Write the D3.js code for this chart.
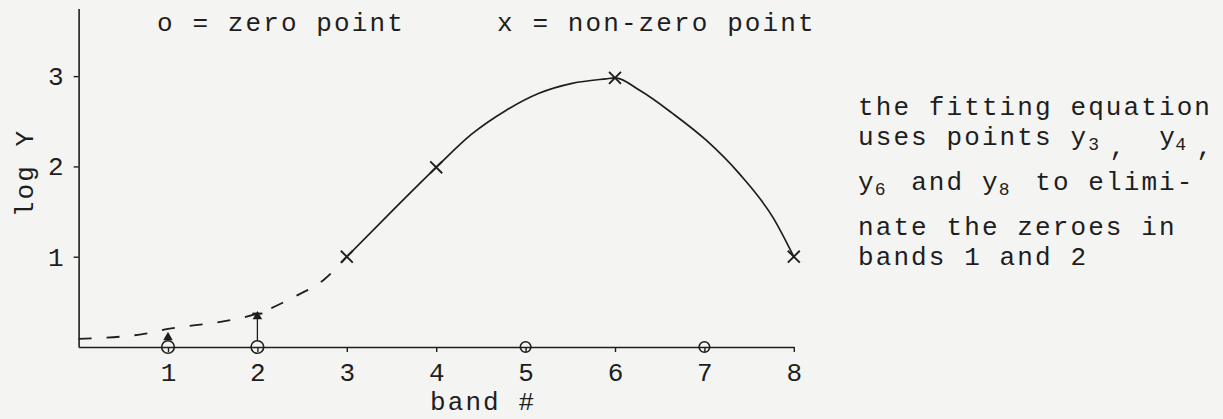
<!DOCTYPE html>
<html>
<head>
<meta charset="utf-8">
<script src="https://cdn.jsdelivr.net/npm/d3@7"></script>
<style>
  html, body { margin: 0; padding: 0; background: #f4f4f2; }
  #chart { width: 1223px; height: 419px; }
</style>
</head>
<body>
<div id="chart"></div>
<script>
// data
var bandTicks = [1, 2, 3, 4, 5, 6, 7, 8];
var logTicks = [1, 2, 3];

var zeroBands = [1, 2, 5, 7];
var zeroValues = [0, 0, 0, 0];

var nonZeroBands = [3, 4, 6, 8];
var nonZeroValues = [1.0, 1.99, 2.98, 1.0];

// dashed part of the fitted curve (extrapolated into bands 1 and 2)
var dashBands = [0, 0.7, 1, 1.65, 2, 2.4, 2.75, 3];
var dashValues = [0.09, 0.14, 0.2, 0.29, 0.37, 0.55, 0.75, 1.0];

// solid part of the fitted curve
var fitBands = [3, 3.5, 4, 4.4, 4.78, 5.15, 5.52, 5.9, 6, 6.28, 6.64, 7.02, 7.39, 7.77, 8];
var fitValues = [1.0, 1.5, 1.99, 2.36, 2.62, 2.81, 2.92, 2.97, 2.98, 2.84, 2.59, 2.29, 1.92, 1.43, 1.0];

// estimated values at the zero bands (arrow marks)
var estBands = [1, 2];
var estValues = [0.14, 0.37];

var noteLines = [
  [{t: "the fitting equation", col: 0}],
  [{t: "uses points y", col: 0}, {t: "3", col: 13.0, sub: true}, {t: ",", col: 14.2, low: true},
   {t: "y", col: 17}, {t: "4", col: 17.9, sub: true}, {t: ",", col: 19.1, low: true}],
  [{t: "y", col: 0}, {t: "6", col: 0.95, sub: true}, {t: "and y", col: 3},
   {t: "8", col: 7.95, sub: true}, {t: "to elimi-", col: 10}],
  [{t: "nate the zeroes in", col: 0}],
  [{t: "bands 1 and 2", col: 0}]
];
var noteBaselines = [115, 145, 190, 235, 265];

var ink = "#1e1e1e";
var font = "'Liberation Mono', 'Courier New', monospace";
var width = 1223, height = 419;

var svg = d3.select("#chart")
  .append("svg")
    .attr("width", width)
    .attr("height", height);

// scales
var x = d3.scaleLinear()
  .domain([0, 8])
  .range([78.6, 793.8]);

var y = d3.scaleLinear()
  .domain([0, 3.75])
  .range([347, 8.4]);

// X axis
var xAxis = svg.append("g")
  .attr("transform", "translate(0," + y(0) + ")")
  .call(d3.axisBottom(x).tickValues(bandTicks).tickFormat(d3.format("d"))
    .tickSize(5).tickSizeOuter(0).tickPadding(11));

// Y axis
var yAxis = svg.append("g")
  .attr("transform", "translate(" + x(0) + ",0)")
  .call(d3.axisLeft(y).tickValues(logTicks).tickFormat(d3.format("d"))
    .tickSize(5).tickSizeOuter(0).tickPadding(10));

[xAxis, yAxis].forEach(function(g) {
  g.attr("font-family", font).attr("font-size", 26);
  g.select(".domain").attr("stroke", ink).attr("stroke-width", 1.6);
  g.selectAll(".tick line").attr("stroke", ink).attr("stroke-width", 1.4);
  g.selectAll(".tick text").attr("fill", ink);
});

// fitted curve
var line = d3.line()
  .x(function(d) { return x(d[0]); })
  .y(function(d) { return y(d[1]); })
  .curve(d3.curveMonotoneX);

svg.append("path")
  .datum(d3.zip(dashBands, dashValues))
  .attr("d", line)
  .attr("fill", "none")
  .attr("stroke", ink)
  .attr("stroke-width", 1.8)
  .attr("stroke-dasharray", "13,15");

svg.append("path")
  .datum(d3.zip(fitBands, fitValues))
  .attr("d", line)
  .attr("fill", "none")
  .attr("stroke", ink)
  .attr("stroke-width", 1.7);

// estimate marks at bands 1 and 2
var est = d3.zip(estBands, estValues);
svg.selectAll("line.est")
  .data(est.filter(function(d) { return d[0] == 2; }))
  .enter()
  .append("line")
    .attr("class", "est")
    .attr("x1", function(d) { return x(d[0]); })
    .attr("x2", function(d) { return x(d[0]); })
    .attr("y1", y(0) - 6)
    .attr("y2", function(d) { return y(d[1]); })
    .attr("stroke", ink)
    .attr("stroke-width", 1.3);

svg.selectAll("path.est")
  .data(est)
  .enter()
  .append("path")
    .attr("class", "est")
    .attr("d", d3.symbol(d3.symbolTriangle, 40))
    .attr("transform", function(d) { return "translate(" + x(d[0]) + "," + (y(d[1]) + 3) + ")"; })
    .attr("fill", ink);

svg.selectAll("line.cap")
  .data(est.filter(function(d) { return d[0] == 2; }))
  .enter()
  .append("line")
    .attr("class", "cap")
    .attr("x1", function(d) { return x(d[0]) - 5; })
    .attr("x2", function(d) { return x(d[0]) + 5; })
    .attr("y1", function(d) { return y(d[1]); })
    .attr("y2", function(d) { return y(d[1]); })
    .attr("stroke", ink)
    .attr("stroke-width", 2);

// zero points
svg.selectAll("circle.zero")
  .data(d3.zip(zeroBands, zeroValues))
  .enter()
  .append("circle")
    .attr("class", "zero")
    .attr("cx", function(d) { return x(d[0]); })
    .attr("cy", function(d) { return y(d[1]); })
    .attr("r", function(d) { return d[0] < 3 ? 6.3 : 5.3; })
    .attr("fill", "none")
    .attr("stroke", ink)
    .attr("stroke-width", 1.6);

// non-zero points
svg.selectAll("path.nonzero")
  .data(d3.zip(nonZeroBands, nonZeroValues))
  .enter()
  .append("path")
    .attr("class", "nonzero")
    .attr("d", d3.symbol(d3.symbolX, 95))
    .attr("transform", function(d) { return "translate(" + x(d[0]) + "," + y(d[1]) + ")"; })
    .attr("fill", "none")
    .attr("stroke", ink)
    .attr("stroke-width", 1.9);

// texts
function typed(xPos, yPos, str) {
  return svg.append("text")
    .attr("x", xPos)
    .attr("y", yPos)
    .attr("font-family", font)
    .attr("font-size", 26)
    .attr("letter-spacing", 2.1)
    .attr("fill", ink)
    .text(str);
}

typed(157, 31, "o = zero point");
typed(497, 31, "x = non-zero point");
typed(430, 410, "band #");
typed(0, 0, "log Y")
  .attr("text-anchor", "middle")
  .attr("transform", "translate(33,173) rotate(-90)");

// note on the right, typewriter columns
var colW = 17.72, noteX = 858;
noteLines.forEach(function(segs, i) {
  var t = svg.append("text")
    .attr("font-family", font)
    .attr("font-size", 26)
    .attr("letter-spacing", 2.1)
    .attr("fill", ink);
  segs.forEach(function(s) {
    var yy = noteBaselines[i] + (s.sub ? 5 : s.low ? 10 : 0);
    t.append("tspan")
      .attr("x", noteX + s.col * colW)
      .attr("y", yy)
      .attr("font-size", s.sub ? 18 : 26)
      .attr("letter-spacing", s.sub ? 0 : 2.1)
      .text(s.t);
  });
});
</script>
</body>
</html>
